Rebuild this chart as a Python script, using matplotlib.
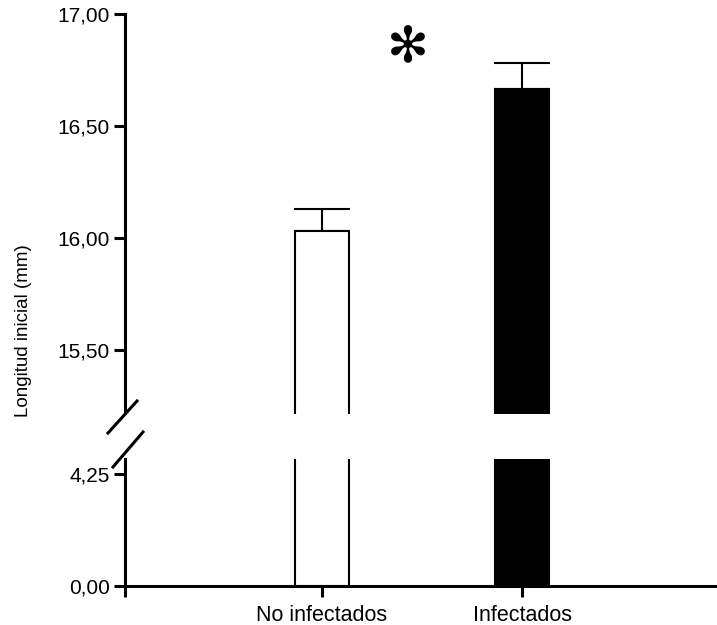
import matplotlib
matplotlib.use('Agg')
import matplotlib.pyplot as plt
from matplotlib.lines import Line2D

plt.rcParams['font.family'] = ['Liberation Sans', 'DejaVu Sans']

# Datos
grupos = ['No infectados', 'Infectados']
medias = [16.03, 16.665]
error_sup = [0.10, 0.115]
colores = ['white', 'black']
ticks_sup = [15.50, 16.00, 16.50, 17.00]
ticks_inf = [0.00, 4.25]

x = [1, 2]
ancho = 0.27
lw = 2.2

fig = plt.figure(figsize=(7.17, 6.25), dpi=100)
ax_sup = fig.add_axes([0.1743, 0.3376, 0.8257, 0.6400])
ax_inf = fig.add_axes([0.1743, 0.0624, 0.8257, 0.2032])

for ax in (ax_sup, ax_inf):
    ax.bar(x, medias, width=ancho, color=colores, edgecolor='black', linewidth=1.5, zorder=2)
    ax.set_xlim(0.02, 2.97)
    for s in ('top', 'right'):
        ax.spines[s].set_visible(False)
    ax.spines['left'].set_linewidth(lw)
    ax.tick_params(axis='y', direction='out', length=8, width=lw, labelsize=15, pad=3)

ax_sup.errorbar(x, medias, yerr=[[0, 0], error_sup], fmt='none', ecolor='black',
                elinewidth=1.5, capsize=20, capthick=1.5, zorder=1)

ax_sup.set_ylim(15.214, 17.0)
ax_sup.spines['bottom'].set_visible(False)
ax_sup.set_xticks([])
ax_sup.set_yticks(ticks_sup)
ax_sup.set_yticklabels([f'{v:.2f}'.replace('.', ',') for v in ticks_sup])
ax_sup.spines['left'].set_bounds(15.22, 17.0)

ax_inf.set_ylim(0, 4.82)
ax_inf.spines['bottom'].set_linewidth(lw)
ax_inf.set_yticks(ticks_inf)
ax_inf.set_yticklabels([f'{v:.2f}'.replace('.', ',') for v in ticks_inf])
ax_inf.set_xticks([0.02] + x)
ax_inf.set_xticklabels([''] + grupos)
ax_inf.tick_params(axis='x', direction='out', length=8, width=lw, labelsize=15.5, pad=6)

# marcas de corte del eje
W, H = 717, 625
def px(xp, yp):
    return (xp / W, 1 - yp / H)
for (x0, y0), (x1, y1) in [((108, 433), (137, 401)), ((113, 467), (143, 432))]:
    fig.add_artist(Line2D([px(x0, y0)[0], px(x1, y1)[0]], [px(x0, y0)[1], px(x1, y1)[1]],
                          color='black', linewidth=lw, transform=fig.transFigure))

fig.text(24 / W, 1 - 331 / H, 'Longitud inicial (mm)', rotation=90, ha='center', va='center', fontsize=13.5)

ax_sup.text(1.43, 16.85, '✻', ha='center', va='center', fontsize=36, family='DejaVu Sans')

fig.savefig('out.png', dpi=100)
